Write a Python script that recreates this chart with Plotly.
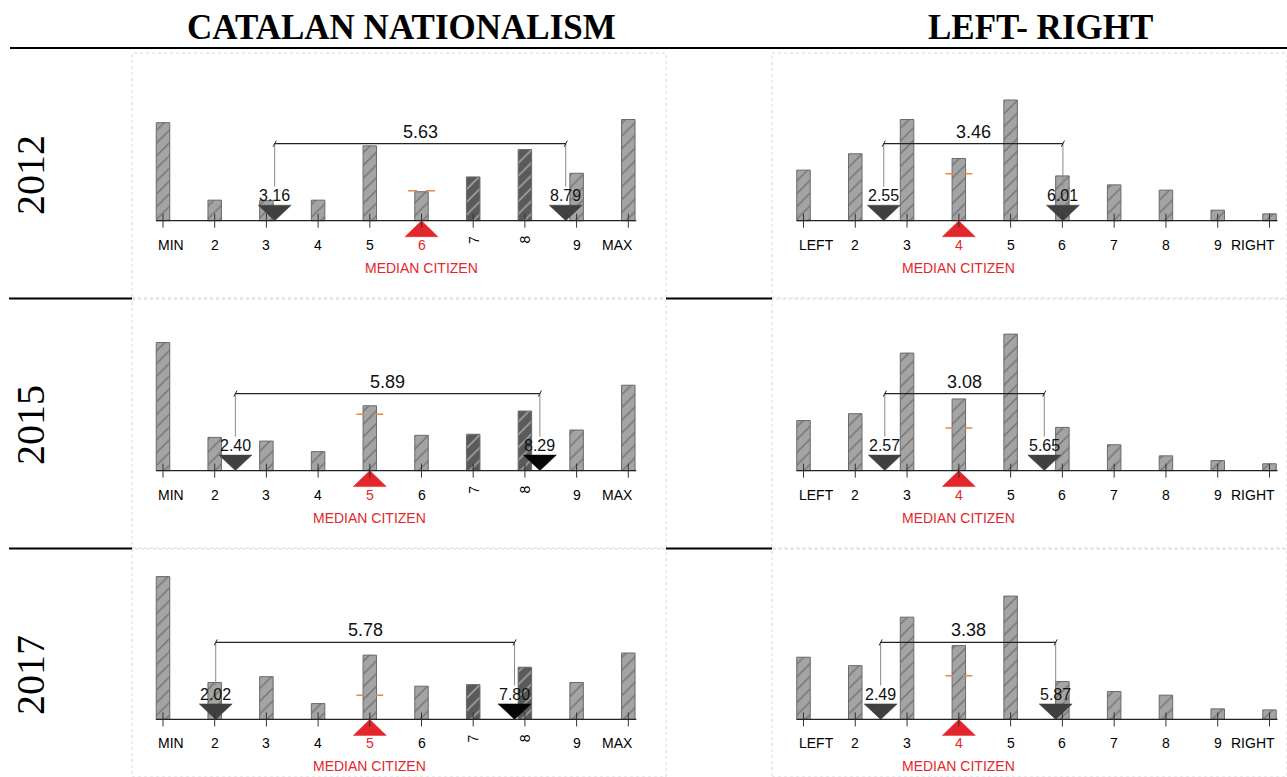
import plotly.graph_objects as go

W, H = 1287, 777

# ---------------------------------------------------------------- data
YEARS = ["2012", "2015", "2017"]
DIMENSIONS = ["CATALAN NATIONALISM", "LEFT- RIGHT"]
SCALE = list(range(1, 11))
CN_TICK_LABELS = ["MIN", "2", "3", "4", "5", "6", "7", "8", "9", "MAX"]
LR_TICK_LABELS = ["LEFT", "2", "3", "4", "5", "6", "7", "8", "9", "RIGHT"]

# share of respondents (%) at each point of the scale
CN_2012 = [18.6, 3.9, 3.8, 3.9, 14.2, 5.5, 8.3, 13.5, 9.0, 19.2]
CN_2015 = [24.3, 6.3, 5.6, 3.6, 12.3, 6.7, 6.9, 11.3, 7.7, 16.2]
CN_2017 = [27.1, 7.0, 8.1, 3.0, 12.2, 6.3, 6.6, 9.9, 7.0, 12.6]
LR_2012 = [9.6, 12.7, 19.2, 11.8, 22.9, 8.5, 6.8, 5.8, 2.0, 1.3]
LR_2015 = [9.5, 10.8, 22.3, 13.6, 25.9, 8.2, 4.9, 2.8, 1.9, 1.3]
LR_2017 = [11.8, 10.2, 19.4, 14.0, 23.4, 7.2, 5.3, 4.6, 2.0, 1.8]

# median citizen position and the level of its marker
CN_MEDIAN = [6, 5, 5]
LR_MEDIAN = [4, 4, 4]
CN_MEDIAN_MARK = [5.7, 10.7, 4.6]
LR_MEDIAN_MARK = [8.9, 8.1, 8.3]

# positions of the two most distant parties
CN_PARTY_LO = [3.16, 2.40, 2.02]
CN_PARTY_HI = [8.79, 8.29, 7.80]
LR_PARTY_LO = [2.55, 2.57, 2.49]
LR_PARTY_HI = [6.01, 5.65, 5.87]

# scale points drawn with the darker fill on the nationalism axis
CN_DARK = [7, 8]
# scale points whose labels are turned sideways on the nationalism axis
CN_TURNED = [7, 8]

# ---------------------------------------------------------------- layout geometry (pixels)
PXU_Y = 5.27                       # pixels per percentage point
ROW_TOP = [53, 299, 549]
ROW_BOTTOM = [298, 548, 777]
ROW_BASE = [220.7, 470.6, 719.4]
COL_LEFT = [132, 772]
COL_RIGHT = [666, 1287]
COL_T1 = [163.0, 803.5]            # pixel of scale point 1
COL_T10 = [628.3, 1269.5]          # pixel of scale point 10

FONT = "Liberation Sans, Arial, sans-serif"
SERIF = "Liberation Serif, Times New Roman, serif"
RED = "#e3262b"
ORANGE = "#e58a4e"

columns = [
    dict(values=[CN_2012, CN_2015, CN_2017], ticks=CN_TICK_LABELS, median=CN_MEDIAN,
         mark=CN_MEDIAN_MARK, lo=CN_PARTY_LO, hi=CN_PARTY_HI, dark=CN_DARK, turned=CN_TURNED,
         hi_color=["#404040", "#050505", "#050505"]),
    dict(values=[LR_2012, LR_2015, LR_2017], ticks=LR_TICK_LABELS, median=LR_MEDIAN,
         mark=LR_MEDIAN_MARK, lo=LR_PARTY_LO, hi=LR_PARTY_HI, dark=[], turned=[],
         hi_color=["#404040", "#404040", "#404040"]),
]

fig = go.Figure()
shapes, annotations = [], []
layout_axes = {}


def py(p):
    return 1 - p / H


for c, col in enumerate(columns):
    pxu_x = (COL_T10[c] - COL_T1[c]) / 9
    xr = [1 - (COL_T1[c] - COL_LEFT[c]) / pxu_x, 10 + (COL_RIGHT[c] - COL_T10[c]) / pxu_x]
    bar_w = 13.5 / pxu_x
    tri_hw = 16.5 / pxu_x
    for r in range(3):
        n = r * 2 + c + 1
        xa, ya = f"x{n}", f"y{n}"
        yr = [-(ROW_BOTTOM[r] - ROW_BASE[r]) / PXU_Y, (ROW_BASE[r] - ROW_TOP[r]) / PXU_Y]
        layout_axes[f"xaxis{n}"] = dict(domain=[COL_LEFT[c] / W, COL_RIGHT[c] / W], range=xr,
                                        visible=False, fixedrange=True, anchor=ya)
        layout_axes[f"yaxis{n}"] = dict(domain=[py(ROW_BOTTOM[r]), py(ROW_TOP[r])], range=yr,
                                        visible=False, fixedrange=True, anchor=xa)

        vals = col["values"][r]
        bg = ["#5a5a5a" if v in col["dark"] else "#a4a4a4" for v in SCALE]
        fig.add_trace(go.Bar(
            x=SCALE, y=vals, width=bar_w, xaxis=xa, yaxis=ya, showlegend=False, hoverinfo="skip",
            marker=dict(color=bg, line=dict(color="#6a6a6a", width=1),
                        pattern=dict(shape="/", fillmode="overlay", fgcolor="#ececec",
                                     size=9, solidity=0.16)),
        ))

        # axis line and ticks
        ax0, ax1 = 1 - 7 / pxu_x, 10 + 8 / pxu_x
        shapes.append(dict(type="line", xref=xa, yref=ya, x0=ax0, x1=ax1, y0=0, y1=0,
                           line=dict(color="#222", width=1.2)))
        for v in SCALE:
            shapes.append(dict(type="line", xref=xa, yref=ya, x0=v, x1=v,
                               y0=-7 / PXU_Y, y1=7 / PXU_Y, line=dict(color="#333", width=1)))

        # median citizen: orange marker and red triangle
        m = col["median"][r]
        shapes.append(dict(type="line", xref=xa, yref=ya, x0=m - 0.26, x1=m + 0.26,
                           y0=col["mark"][r], y1=col["mark"][r],
                           line=dict(color=ORANGE, width=1.5, dash="dash")))
        th = 16 / PXU_Y
        fig.add_trace(go.Scatter(
            x=[m - tri_hw, m + tri_hw, m, m - tri_hw], y=[-th, -th, 0, -th],
            mode="lines", fill="toself", fillcolor=RED, line=dict(color=RED, width=0.5),
            xaxis=xa, yaxis=ya, showlegend=False, hoverinfo="skip"))

        # party positions
        lo, hi = col["lo"][r], col["hi"][r]
        tp = 15.5 / PXU_Y
        for p, colr in ((lo, "#404040"), (hi, col["hi_color"][r])):
            fig.add_trace(go.Scatter(
                x=[p - tri_hw, p + tri_hw, p, p - tri_hw], y=[tp, tp, 0, tp],
                mode="lines", fill="toself", fillcolor=colr, line=dict(color=colr, width=0.5),
                xaxis=xa, yaxis=ya, showlegend=False, hoverinfo="skip"))
            annotations.append(dict(x=p, y=0, xref=xa, yref=ya, yshift=25, text=f"{p:.2f}",
                                    showarrow=False, font=dict(family=FONT, size=16, color="#111"),
                                    xanchor="center", yanchor="middle"))
            # connector from bracket
            shapes.append(dict(type="line", xref=xa, yref=ya, x0=p, x1=p,
                               y0=34 / PXU_Y, y1=77 / PXU_Y, line=dict(color="#8a8a8a", width=1)))

        # distance bracket
        by = 77 / PXU_Y
        shapes.append(dict(type="line", xref=xa, yref=ya, x0=lo, x1=hi, y0=by, y1=by,
                           line=dict(color="#222", width=1.2)))
        for p in (lo, hi):
            shapes.append(dict(type="line", xref=xa, yref=ya, x0=p - 0.03, x1=p + 0.03,
                               y0=by - 3 / PXU_Y, y1=by + 3 / PXU_Y, line=dict(color="#222", width=1)))
        annotations.append(dict(x=(lo + hi) / 2, y=0, xref=xa, yref=ya, yshift=89,
                                text=f"{hi - lo:.2f}", showarrow=False,
                                font=dict(family=FONT, size=18, color="#111"),
                                xanchor="center", yanchor="middle"))

        # scale labels
        for i, (v, lab) in enumerate(zip(SCALE, col["ticks"])):
            a = dict(x=v, y=0, xref=xa, yref=ya, text=lab, showarrow=False,
                     font=dict(family=FONT, size=14, color=RED if v == m else "#000"),
                     xanchor="center", yanchor="middle", yshift=-24)
            if i == 0:
                a.update(xanchor="left", xshift=-7)
            elif i == len(SCALE) - 1:
                a.update(xanchor="right", xshift=7)
            if v in col["turned"]:
                a.update(textangle=-90, yshift=-19)
            annotations.append(a)
        annotations.append(dict(x=m, y=0, xref=xa, yref=ya, yshift=-47, text="MEDIAN CITIZEN",
                                showarrow=False, font=dict(family=FONT, size=14, color=RED),
                                xanchor="center", yanchor="middle"))

        # dotted panel frame
        shapes.append(dict(type="rect", xref="paper", yref="paper",
                           x0=COL_LEFT[c] / W, x1=COL_RIGHT[c] / W,
                           y0=py(ROW_BOTTOM[r]), y1=py(ROW_TOP[r]),
                           line=dict(color="#d6d6d6", width=1, dash="dot"), layer="below"))

# table rules
rules = [(10, 1287, 48), (9, 132, 298.5), (666, 772, 298.5), (9, 132, 548.5), (666, 772, 548.5)]
for x0, x1, yy in rules:
    shapes.append(dict(type="line", xref="paper", yref="paper", x0=x0 / W, x1=x1 / W,
                       y0=py(yy), y1=py(yy), line=dict(color="#000", width=2)))

# column headers and year labels
for hx, txt in zip([401, 1040], DIMENSIONS):
    annotations.append(dict(x=hx / W, y=py(28), xref="paper", yref="paper", text=f"<b>{txt}</b>",
                            showarrow=False, font=dict(family=SERIF, size=35, color="#000"),
                            xanchor="center", yanchor="middle"))
for yc, yr_ in zip([175, 425, 675], YEARS):
    annotations.append(dict(x=30 / W, y=py(yc), xref="paper", yref="paper", text=yr_,
                            textangle=-90, showarrow=False,
                            font=dict(family=SERIF, size=40, color="#000"),
                            xanchor="center", yanchor="middle"))

fig.update_layout(
    width=W, height=H, margin=dict(l=0, r=0, t=0, b=0),
    paper_bgcolor="white", plot_bgcolor="white", showlegend=False,
    shapes=shapes, annotations=annotations, barmode="overlay",
    **layout_axes,
)

fig.write_html("out.html", config={"displayModeBar": False})
